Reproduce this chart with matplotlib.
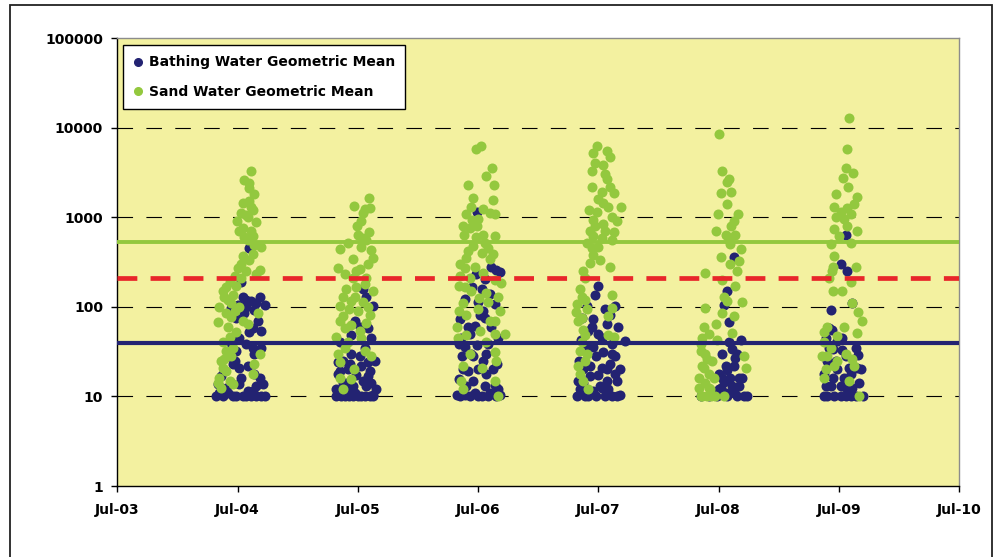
import numpy as np
import pandas as pd
import matplotlib
matplotlib.use("Agg")
import matplotlib.pyplot as plt
import matplotlib.dates as mdates
from matplotlib.lines import Line2D
from matplotlib.patches import Rectangle

plt.rcParams['font.family'] = ['DejaVu Sans']
plt.rcParams['font.weight'] = 'bold'

# sample days are offsets (days) from 1 July of each season
bath_2004_days = [36, 11, 16, 67, 82, 0, 26, 51, -19, 46, 36, 72, -4, 51, 72, -14, 6, 51, 67, -40,
                  -60, -35, 6, 31, 77, -65, -45, -14, 16, 72, 46, 82,
                  26, 41, 56, 21, -4, 62, 6, -24, 26, 46, -30, -9, 31, -50, 11, -20, 56, -55, -30,
                  41, 57, -4, 26]
bath_2004_vals = [450, 190, 130, 130, 105, 105, 100, 92, 96, 58, 52, 54, 32, 30, 35, 23, 21, 18, 16, 19,
                  13.6, 12.5, 13.6, 11.5, 13.6, 10, 10, 10, 10, 10, 11.5, 10,
                  120, 115, 110, 85, 75, 70, 45, 40, 38, 35, 28, 25, 22, 17, 16, 14, 13, 11, 11,
                  10, 10, 10, 10]
sand_2004_days = [42, 36, 34, 51, 16, 36, 46, 11, 26, 56, 16, 6, 41, 31, 51, 72, 16, 46, 0, 26, 67, 11,
                  -4, -35, -40, -14, -19, 6, -35, -19, -60, 16, 62, 31, -4, -24, -35, -40, -19, -45, 51,
                  67, -55, -24, 46, -50, -14,
                  21, 41, 31, -1, 46, 21, 36, 11, 56, -9, -24, -45, -30, -55, -9, -30, -45, -14, -50,
                  -35, -60]
sand_2004_vals = [3300, 2400, 2100, 1800, 1450, 1500, 1200, 1100, 1050, 880, 750, 700, 700, 560, 490,
                  470, 370, 390, 270, 250, 260, 210, 170, 165, 130, 135, 110, 100, 86, 76, 68, 70, 86,
                  64, 52, 46, 32, 26, 28, 21, 23, 30, 16, 15, 18, 12.5, 13.6,
                  2600, 1300, 1000, 900, 620, 600, 330, 300, 230, 220, 190, 150, 120, 100, 90, 60, 40,
                  35, 25, 19, 14]

bath_2005_days = [16, 26, 47, -9, 31, -19, -60, -24, 6, 31, -54, -4, 36, 16, -45, 41, -14, -65, -29,
                  -65, -40, -14, 11, 36, 47,
                  -45, -20, 21, 41, -55, 6, -35, 26, -9, 56, -50, -25, 1, 21, 46, -60, 31, -30, 11, 51]
bath_2005_vals = [160, 130, 103, 70, 58, 48, 24, 23, 28, 24, 19, 17.5, 19, 15, 14, 14, 13, 12, 12,
                  10, 10, 10, 10, 10, 10.5,
                  25, 30, 35, 45, 40, 60, 14, 13, 11, 12, 10, 10, 10, 10, 10, 18, 17, 20, 22, 25]
sand_2005_days = [34, -10, 21, 38, 11, 34, 0, 16, -54, 11, 41, -14, 31, -60, 6, -14, 26, -35, -4, -45,
                  -19, -9, 16, -54, 36, -45, 26, -40, 6, -65, -29, 41, -54, -19, -54,
                  16, -1, 26, -30, 46, -40, -5, 21, 46, -25, 1, 31, -55, -20, 11, -40, 21, -60, -10, -45]
sand_2005_vals = [1650, 1350, 1250, 1280, 900, 680, 640, 590, 440, 460, 425, 340, 300, 270, 265, 210,
                  210, 160, 165, 130, 117, 130, 112, 103, 80, 78, 66, 58, 54, 46, 40, 28, 24, 15.5, 16,
                  1100, 800, 550, 520, 350, 230, 250, 180, 150, 95, 90, 100, 70, 62, 45, 35, 32, 30,
                  20, 12]

bath_2006_days = [-3, 41, 67, 21, -19, -40, 0, 51, 16, -53, -9, 21, -25, -58, -40, -4, 31, -49, -14,
                  16, 57, -30, 26, -58, -14, 51, -63, -40, 11, 36, 67,
                  -50, -30, 6, 41, 61, -20, 26, -45, 1, 46, -35, 21, 61, -10, -25, -55, 0, 31, 56,
                  11, 36, -5, 56]
bath_2006_vals = [1150, 275, 245, 205, 165, 122, 113, 107, 89, 73, 61, 75, 50, 38, 36, 37, 38, 28, 28,
                  25, 23, 19, 18, 15.5, 15, 13.5, 10.5, 10.5, 10, 11, 10.5,
                  45, 60, 80, 60, 45, 30, 30, 20, 20, 20, 13, 13, 12, 11, 10, 10, 10, 10, 10,
                  160, 140, 230, 260]
sand_2006_days = [8, -5, 43, 26, 49, -31, -14, 45, 16, -36, 53, -19, -2, -25, -42, 16, 53, -14, 31,
                  -35, 11, 36, -53, -9, -25, -58, 70, -40, 26, 3, 31, -58, -35, 67, 51, -63, 6, 51, 82,
                  -35, 51, -45, 11, 51, -45, 62,
                  -20, 36, 1, -45, 21, -5, -30, 46, -40, 16, -55, 51, -20, 61, -45, 0, 36, -60, 26,
                  -25, 56, -50]
sand_2006_vals = [6300, 5700, 3500, 2900, 2300, 2300, 1650, 1550, 1230, 1080, 1080, 930, 800, 760, 630,
                  640, 610, 480, 457, 350, 400, 340, 300, 275, 211, 172, 182, 165, 142, 126, 112, 89,
                  82, 89, 70, 60, 54, 50, 50, 48, 31, 22, 21, 15, 12, 10,
                  1300, 1100, 950, 800, 520, 600, 420, 390, 270, 240, 220, 200, 150, 130, 110, 95, 70,
                  45, 40, 30, 25, 15]

bath_2007_days = [-1, -10, -35, 51, 21, -14, 26, -30, 0, 82, 41, -53, -14, -58, 16, 51, -25, 11, 36,
                  67, 1, -45, 26, 57, -65, -40, -14, 11, 41, 67,
                  -50, 36, -20, 61, 11, -35, 41, -5, -45, 26, -25, 51, -55, 6, 31, -30, -5, 21, 56,
                  -60]
bath_2007_vals = [172, 137, 103, 103, 95, 73, 65, 54, 50, 41, 38, 43, 36, 25, 31, 28, 22, 21, 23, 20,
                  17.5, 14, 15, 15, 10, 10, 11.5, 12.5, 10, 10.5,
                  75, 80, 60, 60, 45, 35, 30, 28, 20, 20, 17, 18, 12, 13, 12, 10, 10, 10, 10, 15]
sand_2007_days = [-3, -14, 26, 36, -9, 16, 26, -20, 11, 49, 69, 16, -4, 43, -15, 16, 49, -25, -14, 11,
                  -20, 0, -25, 35, -40, 43, -49, -64, -35, 43, -68, -49, 31, -40, 31, 49, -55, -40,
                  -55, -45,
                  21, -19, 36, 1, -29, 31, 56, -9, 21, -35, 41, -15, 6, -45, -55, -40, -60, -45, -50,
                  -35, -60, -30]
sand_2007_vals = [6200, 5200, 5500, 4700, 4000, 3800, 2700, 2200, 1900, 1850, 1300, 1450, 1130, 1000,
                  930, 850, 680, 700, 610, 590, 450, 460, 310, 280, 211, 137, 130, 107, 95, 98, 88, 75,
                  79, 48, 48, 46, 32, 25, 18, 15,
                  3000, 3300, 2200, 1600, 1200, 1300, 900, 800, 700, 520, 560, 380, 330, 250, 160,
                  120, 70, 55, 40, 30, 22, 12]

bath_2008_days = [46, 26, 16, 31, 67, 41, 11, 51, 72, 26, 1, 62, 16, 41, -55, -29, -4, 26, 56, 87,
                  6, 51,
                  31, 56, 21, 46, 11, 36, 61, 21, 46, 76, 1]
bath_2008_vals = [357, 150, 104, 67, 43, 34, 29.5, 27, 16, 19.5, 18, 16, 14.5, 13, 10, 10, 10, 10, 10,
                  10, 12.5, 12.5,
                  40, 30, 22, 22, 16, 16, 13, 11, 11, 10, 12]
sand_2008_days = [1, 11, 31, 24, 38, 6, -3, 58, -7, 38, 21, 51, 36, 67, 6, 62, 36, -40, 11, 51, 26,
                  72, -40, 11, 46, -9, 41, -50, -4, 77, -55, -35, 82, -45, -14, -60, -50, -24, 16, -29,
                  -45, -30, -55, -40, -20, -50, -30, -60, -40, -25, -55, -35, -10, 16, 56, 31, 46, 26]
sand_2008_vals = [8500, 3300, 2700, 2450, 1930, 1840, 1075, 1075, 700, 790, 640, 640, 500, 440, 357,
                  325, 300, 240, 200, 170, 115, 112, 96, 85, 78, 64, 51, 45, 43, 28, 32, 26, 21, 21,
                  16, 12.5, 10, 10, 10, 12.5,
                  60, 50, 38, 30, 25, 22, 18, 16, 14, 12, 10, 10, 10, 130, 250, 550, 900, 1400]

bath_2009_days = [21, 6, 26, 41, -24, -29, -4, -19, 11, 57, -35, -4, 31, 56, -19, 16, -40, 41, -45, 6,
                  36, 72,
                  -40, -20, 11, -30, 21, 51, -45, -10, 36, -25, 6, 26, 61, -35, -15, 21, 51, 66]
bath_2009_vals = [640, 298, 252, 110, 91, 58, 41, 34, 33, 29, 25, 20, 21, 21, 16, 16, 13, 12.5, 10, 10,
                  10, 10,
                  45, 55, 45, 35, 28, 35, 18, 25, 18, 13, 13, 12, 14, 10, 10, 10, 10, 20]
sand_2009_days = [31, 26, 21, 44, 13, 28, 55, -9, -16, 26, 6, 36, 16, -14, 55, 1, 36, -14, 51, -19,
                  -29, 36, -19, 11, 59, 69, 16, -45, 56, -5, -35, 41, -4, -45, 62,
                  -24, 26, -9, 46, -20, 41, -35, -45, -25, 21, -50, -15, 46, -40, 31]
sand_2009_vals = [12900, 5700, 3500, 3150, 2760, 2200, 1700, 1800, 1300, 1280, 1130, 1090, 950, 740,
                  710, 610, 520, 370, 280, 280, 211, 190, 150, 150, 88, 70, 60, 53, 51, 47, 28, 26, 25,
                  16, 10,
                  500, 800, 1000, 1400, 250, 110, 60, 40, 35, 30, 28, 22, 22, 20, 15]

seasons = [2004, 2005, 2006, 2007, 2008, 2009]
bath_days = [bath_2004_days, bath_2005_days, bath_2006_days, bath_2007_days, bath_2008_days, bath_2009_days]
bath_vals = [bath_2004_vals, bath_2005_vals, bath_2006_vals, bath_2007_vals, bath_2008_vals, bath_2009_vals]
sand_days = [sand_2004_days, sand_2005_days, sand_2006_days, sand_2007_days, sand_2008_days, sand_2009_days]
sand_vals = [sand_2004_vals, sand_2005_vals, sand_2006_vals, sand_2007_vals, sand_2008_vals, sand_2009_vals]

# reference levels
sand_level = 530
red_level = 210
bath_level = 39

navy = '#232372'
green = '#93C83E'
red = '#E8262A'


def to_dates(years, offsets):
    out = []
    for yr, offs in zip(years, offsets):
        base = pd.Timestamp(f'{yr}-07-01')
        out.extend(base + pd.to_timedelta(offs, unit='D'))
    return pd.to_datetime(out)


bath_x = to_dates(seasons, bath_days)
bath_y = np.concatenate(bath_vals)
sand_x = to_dates(seasons, sand_days)
sand_y = np.concatenate(sand_vals)

W, H = 996, 557
fig = plt.figure(figsize=(W / 100, H / 100), dpi=100)
fig.patch.set_facecolor('white')
fig.patches.append(Rectangle((10 / W, -0.1), 982 / W, 1.1 - 5 / H, transform=fig.transFigure,
                             fill=False, edgecolor='#222222', linewidth=1.3))

ax = fig.add_axes([117 / W, (H - 486) / H, (959 - 117) / W, (486 - 38) / H])
ax.set_facecolor('#F3F1A0')
ax.set_yscale('log')
ax.set_ylim(1, 100000)
ax.set_xlim(pd.Timestamp('2003-07-01'), pd.Timestamp('2010-07-01'))

for v in [10, 100, 1000, 10000]:
    ax.axhline(v, color='black', linewidth=0.8, dashes=(14, 12), zorder=1)

ax.scatter(bath_x, bath_y, s=52, color=navy, linewidths=0, zorder=3)
ax.scatter(sand_x, sand_y, s=52, color=green, linewidths=0, zorder=4)

ax.axhline(sand_level, color=green, linewidth=2.8, zorder=5)
ax.axhline(red_level, color=red, linewidth=3.4, dashes=(4.2, 2.8), zorder=5)
ax.axhline(bath_level, color=navy, linewidth=3.0, zorder=5)

ax.xaxis.set_major_locator(mdates.MonthLocator(bymonth=7))
ax.xaxis.set_major_formatter(mdates.DateFormatter('%b-%y'))
ax.yaxis.set_major_locator(matplotlib.ticker.LogLocator(base=10, numticks=10))
ax.yaxis.set_minor_locator(matplotlib.ticker.NullLocator())
ax.yaxis.set_major_formatter(matplotlib.ticker.FuncFormatter(lambda v, p: f'{int(round(v))}'))

ax.tick_params(axis='x', length=4, width=1, pad=8, labelsize=10)
ax.tick_params(axis='y', length=4, width=1, pad=6, labelsize=10)
for lab in ax.get_xticklabels() + ax.get_yticklabels():
    lab.set_fontweight('bold')

ax.spines['left'].set_color('black')
ax.spines['bottom'].set_color('black')
ax.spines['top'].set_color('#8C8C8C')
ax.spines['right'].set_color('#8C8C8C')
for sp in ax.spines.values():
    sp.set_linewidth(1.0)

handles = [
    Line2D([], [], linestyle='none', marker='o', markersize=5.5, color=navy, label='Bathing Water Geometric Mean'),
    Line2D([], [], linestyle='none', marker='o', markersize=5.5, color=green, label='Sand Water Geometric Mean'),
]
leg = ax.legend(handles=handles, loc='upper left', bbox_to_anchor=(6 / 842, 1 - 7 / 448),
                frameon=True, fancybox=False, framealpha=1, edgecolor='black',
                prop={'weight': 'bold', 'size': 10}, handlelength=0.6, handletextpad=0.5,
                borderpad=0.75, labelspacing=1.1, borderaxespad=0)
leg.get_frame().set_linewidth(1.0)
leg.set_zorder(10)

fig.savefig('out.png', dpi=100)
